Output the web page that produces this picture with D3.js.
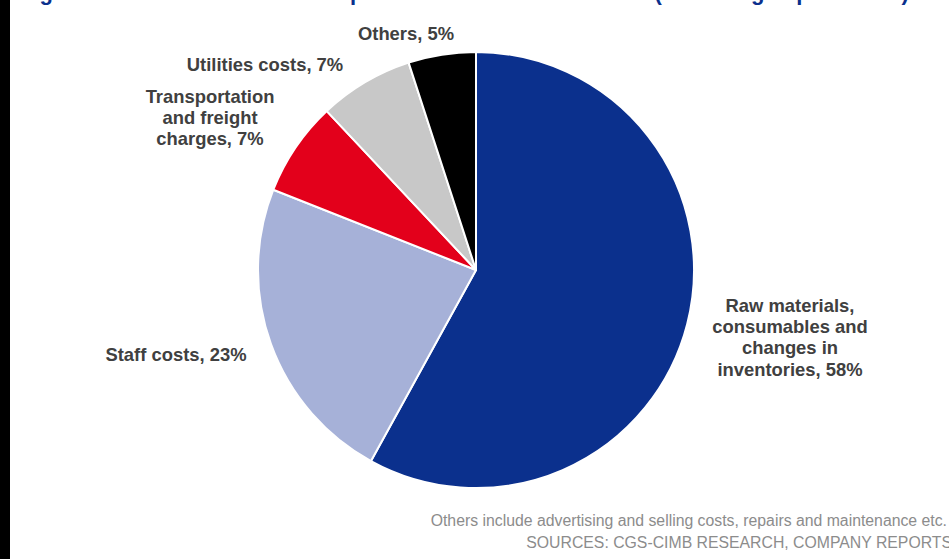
<!DOCTYPE html>
<html>
<head>
<meta charset="utf-8">
<script src="https://cdn.jsdelivr.net/npm/d3@7/dist/d3.min.js"></script>
<style>
  html, body { margin: 0; padding: 0; background: #fff; }
  svg { display: block; font-family: "Liberation Sans", Arial, sans-serif; }
</style>
</head>
<body>
<svg id="chart" width="949" height="559"></svg>
<script>
// Cost breakdown, clockwise from 12 o'clock
const categories = [
  "Raw materials, consumables and changes in inventories",
  "Staff costs",
  "Transportation and freight charges",
  "Utilities costs",
  "Others"
];
const shares = [58, 23, 7, 7, 5];
const colors = ["#0b308d", "#a6b1d8", "#e3001b", "#c8c8c8", "#000000"];
// Label lines per slice, and the point each label block is centred on
const labelLines = [
  ["Raw materials,", "consumables and", "changes in", "inventories, 58%"],
  ["Staff costs, 23%"],
  ["Transportation", "and freight", "charges, 7%"],
  ["Utilities costs, 7%"],
  ["Others, 5%"]
];
const labelAnchors = [[790, 312], [176, 361], [210, 103], [265, 71], [406, 40]];

const titleText = "Figure 5: Raw materials made up most of FY2020 total costs (excluding depreciation)";
const noteText = "Others include advertising and selling costs, repairs and maintenance etc.";
const sourceText = "SOURCES: CGS-CIMB RESEARCH, COMPANY REPORTS";

const svg = d3.select("#chart");
const cx = 476, cy = 270, radius = 218;

// Left edge rule
svg.append("rect").attr("x", 0).attr("y", 0).attr("width", 10).attr("height", 559).attr("fill", "#000");

// Title (runs off the top edge)
svg.append("text")
  .attr("x", 20).attr("y", 0)
  .attr("font-size", 22).attr("font-weight", "bold")
  .attr("fill", "#0b308d")
  .text(titleText);

const data = categories.map((c, i) => ({ name: c, value: shares[i], color: colors[i], lines: labelLines[i], anchor: labelAnchors[i] }));

const pie = d3.pie().value(d => d.value).sort(null);
const arc = d3.arc().innerRadius(0).outerRadius(radius);

const g = svg.append("g").attr("transform", `translate(${cx},${cy})`);
g.selectAll("path")
  .data(pie(data))
  .join("path")
  .attr("d", arc)
  .attr("fill", d => d.data.color)
  .attr("stroke", "#fff")
  .attr("stroke-width", 2)
  .attr("stroke-linejoin", "round");

// Slice labels
const lineH = 21.2;
data.forEach(d => {
  const t = svg.append("text")
    .attr("text-anchor", "middle")
    .attr("font-size", 18.4)
    .attr("font-weight", "bold")
    .attr("fill", "#404040");
  d.lines.forEach((ln, j) => {
    t.append("tspan").attr("x", d.anchor[0]).attr("y", d.anchor[1] + j * lineH).text(ln);
  });
});

// Footnotes
svg.append("text")
  .attr("x", 947).attr("y", 526)
  .attr("text-anchor", "end")
  .attr("font-size", 15.8).attr("fill", "#8c8c8c")
  .text(noteText);
svg.append("text")
  .attr("x", 952).attr("y", 548)
  .attr("text-anchor", "end")
  .attr("font-size", 15.8).attr("fill", "#8c8c8c")
  .text(sourceText);
</script>
</body>
</html>
